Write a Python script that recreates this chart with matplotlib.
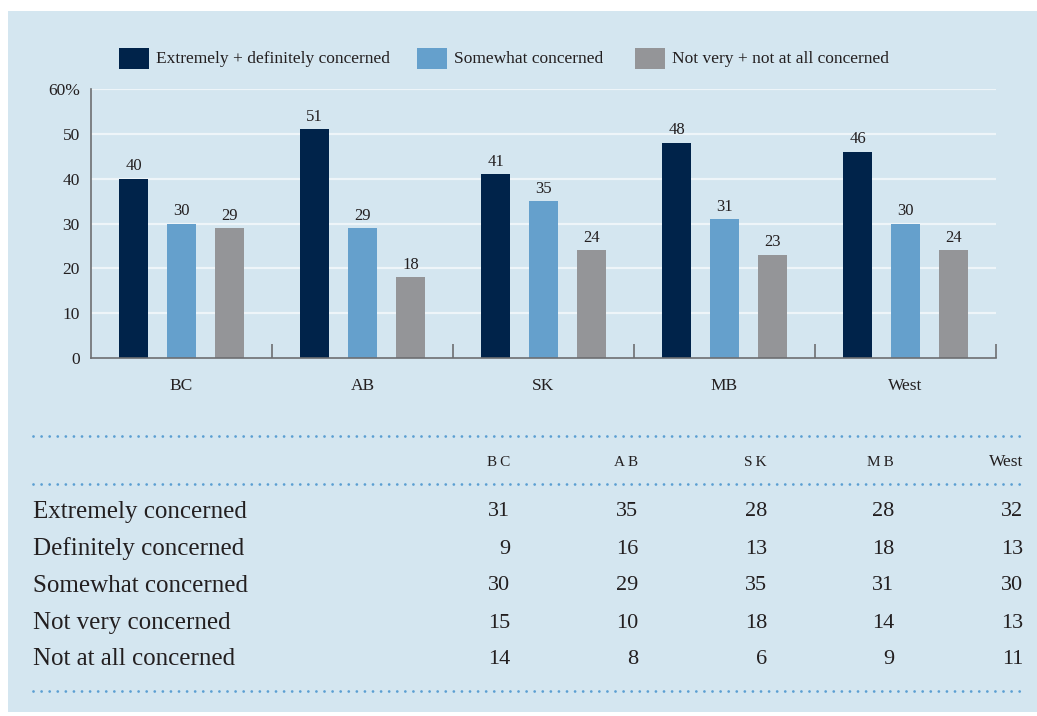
import matplotlib
matplotlib.use("Agg")
import matplotlib.pyplot as plt
from matplotlib.patches import Rectangle
from matplotlib.lines import Line2D
import numpy as np

regions = ["BC", "AB", "SK", "MB", "West"]
series_names = ["Extremely + definitely concerned", "Somewhat concerned",
                "Not very + not at all concerned"]
concerned = [40, 51, 41, 48, 46]
somewhat = [30, 29, 35, 31, 30]
not_concerned = [29, 18, 24, 23, 24]
yticks = [0, 10, 20, 30, 40, 50, 60]
ytick_labels = ["0", "10", "20", "30", "40", "50", "60%"]

table_headers = ["B\u2009C", "A\u2009B", "S\u2009K", "M\u2009B", "West"]
table_rows = ["Extremely concerned", "Definitely concerned", "Somewhat concerned",
              "Not very concerned", "Not at all concerned"]
table_values = [
    [31, 35, 28, 28, 32],
    [9, 16, 13, 18, 13],
    [30, 29, 35, 31, 30],
    [15, 10, 18, 14, 13],
    [14, 8, 6, 9, 11],
]

colors = ["#00234a", "#65a0cc", "#949598"]
panel_bg = "#d4e6f0"
text_color = "#231f20"
font = "Liberation Serif"

W, H = 1037, 716
fig = plt.figure(figsize=(W / 100, H / 100), dpi=100)
fig.patch.set_facecolor("white")


def fx(px):
    return px / W


def fy(py):
    return 1 - py / H


# background panel
fig.patches.append(Rectangle((fx(8), fy(712)), fx(1037 - 8), (712 - 11) / H,
                             transform=fig.transFigure, facecolor=panel_bg,
                             edgecolor="none", zorder=-5))

# chart axes
ax = fig.add_axes([fx(91), fy(358), fx(996 - 91), (358 - 89) / H])
ax.set_zorder(2)
ax.set_facecolor("none")
ax.set_xlim(0, 5)
ax.set_ylim(0, 60)

for y in yticks[1:]:
    ax.axhline(y, color="#eef5f9", linewidth=1.6, zorder=1)

bar_w = 0.16
offset = 0.265
centers = np.arange(len(regions)) + 0.5
for i, vals in enumerate([concerned, somewhat, not_concerned]):
    xs = centers + (i - 1) * offset
    ax.bar(xs, vals, width=bar_w, color=colors[i], zorder=2)
    for x, v in zip(xs, vals):
        ax.text(x, v + 1.0, str(v), ha="center", va="bottom", fontsize=12,
                family=font, color=text_color)

for s in ["top", "right"]:
    ax.spines[s].set_visible(False)
for s in ["left", "bottom"]:
    ax.spines[s].set_color("#6d6e71")
    ax.spines[s].set_linewidth(1.2)
ax.spines["bottom"].set_zorder(3)

ax.set_xticks([1, 2, 3, 4, 5])
ax.set_xticklabels([])
ax.tick_params(axis="x", direction="in", length=10, width=1.2, color="#6d6e71")
ax.set_yticks(yticks)
ax.set_yticklabels(ytick_labels, family=font, fontsize=12.5, color=text_color)
ax.tick_params(axis="y", length=0, pad=8)
for x, name in zip(centers, regions):
    ax.text(x, -4.5, name, ha="center", va="top", fontsize=12.5, family=font,
            color=text_color)

# legend
legend_x = [119, 417, 635]
for lx, name, c in zip(legend_x, series_names, colors):
    fig.patches.append(Rectangle((fx(lx), fy(69)), fx(30), 21 / H,
                                 transform=fig.transFigure, facecolor=c,
                                 edgecolor="none"))
    fig.text(fx(lx + 37), fy(59), name, ha="left", va="center", fontsize=12.5,
             family=font, color=text_color)

# table
def dotted(py):
    fig.add_artist(Line2D([fx(33), fx(1024)], [fy(py), fy(py)],
                          transform=fig.transFigure, color="#5b9fd2",
                          linewidth=2.0, linestyle=(0, (0.01, 2.9)),
                          dash_capstyle="round"))


for py in [436, 484, 691]:
    dotted(py)

col_right = [510, 638, 767, 894, 1023]
for cx, h in zip(col_right, table_headers):
    fig.text(fx(cx), fy(462), h, ha="right", va="center",
             fontsize=11 if h != "West" else 12.5, family=font, color=text_color)

row_y = [512, 549, 586, 623, 659]
for ry, label, vals in zip(row_y, table_rows, table_values):
    fig.text(fx(33), fy(ry), label, ha="left", va="center", fontsize=18,
             family=font, color=text_color)
    for cx, v in zip(col_right, vals):
        fig.text(fx(cx), fy(ry), str(v), ha="right", va="center", fontsize=16,
                 family=font, color=text_color)

fig.savefig("out.png", dpi=100, facecolor=fig.get_facecolor())
